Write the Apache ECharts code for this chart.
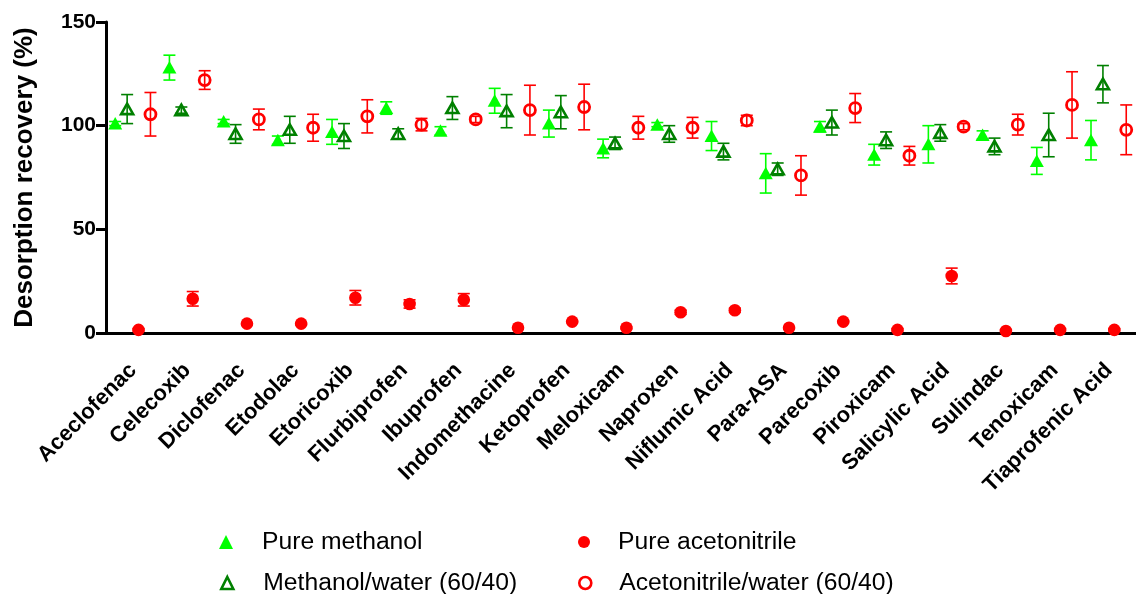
<!DOCTYPE html>
<html>
<head>
<meta charset="utf-8">
<script src="https://cdn.jsdelivr.net/npm/echarts@6/dist/echarts.min.js"></script>
<style>
  html, body { margin: 0; padding: 0; background: #fff; }
  #chart { width: 1136px; height: 594px; }
</style>
</head>
<body>
<div id="chart"></div>
<script>
// drug names on the x axis
const categories = ['Aceclofenac', 'Celecoxib', 'Diclofenac', 'Etodolac', 'Etoricoxib',
  'Flurbiprofen', 'Ibuprofen', 'Indomethacine', 'Ketoprofen', 'Meloxicam', 'Naproxen',
  'Niflumic Acid', 'Para-ASA', 'Parecoxib', 'Piroxicam', 'Salicylic Acid', 'Sulindac',
  'Tenoxicam', 'Tiaprofenic Acid']

// mean recovery (%) and error (+/-) per solvent
const pureMethanol = [101, 128, 102, 93, 97, 108.5, 97.5, 112, 101, 89, 100.5, 95, 77, 99.5, 86, 91, 95.5, 83, 93]
const pureMethanolErr = [1, 6, 1, 2, 6, 3, 2, 6, 6.5, 4.5, 1, 7, 9.5, 2.5, 5, 9, 2, 6.5, 9.5]

const methanolWater = [108, 107.5, 96, 98, 95, 96, 108.5, 107, 106.5, 91.5, 96, 87.5, 79, 101.5, 93, 96.5, 90, 95.5, 120]
const methanolWaterErr = [7, 1.5, 4.5, 6.5, 6, 2.5, 5.5, 8, 8, 3, 4, 4, 3, 6, 4, 4, 4, 10.5, 9]

const pureAcetonitrile = [1.5, 16.5, 4.5, 4.5, 17, 14, 16, 2.5, 5.5, 2.5, 10, 11, 2.5, 5.5, 1.5, 27.5, 1, 1.5, 1.5]
const pureAcetonitrileErr = [0.5, 3.5, 0.5, 0.5, 3.5, 2, 3, 0.5, 0.5, 0.5, 1, 1, 0.5, 0.5, 0.5, 3.8, 0.5, 0.5, 0.5]

const acetonitrileWater = [105.5, 122, 103, 99, 104.5, 100.5, 103, 107.5, 109, 99, 99, 102.5, 76, 108.5, 85.5, 99.5, 100.5, 110, 98]
const acetonitrileWaterErr = [10.5, 4.5, 5, 6.5, 8, 3, 1.5, 12, 11, 5.5, 5, 2.5, 9.5, 7, 4.5, 1.5, 5, 16, 12]

const yTicks = { min: 0, max: 150, interval: 50 }

const GREEN = '#00FF00'
const DARK_GREEN = '#008000'
const RED = '#FF0000'
const FONT = 'Liberation Sans, Arial, sans-serif'

// marker + error bar, shifted inside the category band
function makeRender (shape, color, frac) {
  return function (params, api) {
    const i = api.value(0)
    const v = api.value(1)
    const e = api.value(2)
    const bw = api.size([1, 0])[0]
    const c = api.coord([i, v])
    const hi = api.coord([i, v + e])
    const lo = api.coord([i, v - e])
    const x = c[0] + frac * bw
    const y = c[1]
    const cap = 6
    const lineStyle = { stroke: color, lineWidth: 1.6 }
    const children = [
      { type: 'line', shape: { x1: x, y1: hi[1], x2: x, y2: lo[1] }, style: lineStyle },
      { type: 'line', shape: { x1: x - cap, y1: hi[1], x2: x + cap, y2: hi[1] }, style: lineStyle },
      { type: 'line', shape: { x1: x - cap, y1: lo[1], x2: x + cap, y2: lo[1] }, style: lineStyle }
    ]
    if (shape === 'triangle') {
      children.push({ type: 'polygon', shape: { points: [[x, y - 6.5], [x + 7, y + 6], [x - 7, y + 6]] }, style: { fill: color } })
    } else if (shape === 'openTriangle') {
      children.push({ type: 'polygon', shape: { points: [[x, y - 5.5], [x + 6, y + 5], [x - 6, y + 5]] }, style: { fill: 'none', stroke: color, lineWidth: 2.6 } })
    } else if (shape === 'circle') {
      children.push({ type: 'circle', shape: { cx: x, cy: y, r: 6.3 }, style: { fill: color } })
    } else {
      children.push({ type: 'circle', shape: { cx: x, cy: y, r: 5.5 }, style: { fill: 'none', stroke: color, lineWidth: 2.8 } })
    }
    return { type: 'group', children: children }
  }
}

function rows (values, errs) {
  return values.map((v, i) => [i, v, errs[i]])
}

// one legend block per entry so the 2x2 layout is fixed
function legendEntry (name, icon, itemStyle, left, top, size, textPad) {
  return {
    left: left,
    top: top,
    itemWidth: size,
    itemHeight: size,
    textStyle: { fontFamily: FONT, fontSize: 24.7, color: '#000', lineHeight: 26, padding: [0, 0, 0, textPad] },
    data: [{ name: name, icon: icon, itemStyle: itemStyle }]
  }
}

const chart = echarts.init(document.getElementById('chart'))

const option = {
  animation: false,
  grid: { left: 106, top: 22, width: 1039, height: 311 },
  legend: [
    legendEntry('Pure methanol', 'triangle', { color: GREEN }, 214, 524, 14, 24),
    legendEntry('Methanol/water (60/40)', 'triangle',
      { color: 'rgba(0,0,0,0)', borderColor: DARK_GREEN, borderWidth: 2.6 }, 215, 565, 12, 25),
    legendEntry('Pure acetonitrile', 'circle', { color: RED }, 573, 524, 12, 23),
    legendEntry('Acetonitrile/water (60/40)', 'circle',
      { color: 'rgba(0,0,0,0)', borderColor: RED, borderWidth: 2.6 }, 573, 565, 12, 23)
  ],
  xAxis: {
    type: 'category',
    data: categories,
    boundaryGap: true,
    axisLine: { lineStyle: { color: '#000', width: 3 } },
    axisTick: { alignWithLabel: true, length: 10, lineStyle: { color: '#000', width: 3 } },
    axisLabel: {
      interval: 0,
      rotate: 45,
      margin: 34,
      color: '#000',
      fontFamily: FONT,
      fontWeight: 'bold',
      fontSize: 22
    },
    splitLine: { show: false }
  },
  yAxis: {
    type: 'value',
    min: yTicks.min,
    max: yTicks.max,
    interval: yTicks.interval,
    name: 'Desorption recovery (%)',
    nameLocation: 'middle',
    nameGap: 68,
    nameTextStyle: { fontFamily: FONT, fontWeight: 'bold', fontSize: 26, color: '#000' },
    axisLine: { show: true, lineStyle: { color: '#000', width: 3 } },
    axisTick: { show: true, length: 10, lineStyle: { color: '#000', width: 3 } },
    axisLabel: { margin: 10, color: '#000', fontFamily: FONT, fontWeight: 'bold', fontSize: 21 },
    splitLine: { show: false }
  },
  series: [
    {
      name: 'Pure methanol',
      type: 'custom',
      itemStyle: { color: GREEN },
      renderItem: makeRender('triangle', GREEN, -0.33),
      encode: { x: 0, y: 1 },
      data: rows(pureMethanol, pureMethanolErr)
    },
    {
      name: 'Methanol/water (60/40)',
      type: 'custom',
      itemStyle: { color: DARK_GREEN },
      renderItem: makeRender('openTriangle', DARK_GREEN, -0.11),
      encode: { x: 0, y: 1 },
      data: rows(methanolWater, methanolWaterErr)
    },
    {
      name: 'Pure acetonitrile',
      type: 'custom',
      itemStyle: { color: RED },
      renderItem: makeRender('circle', RED, 0.1),
      encode: { x: 0, y: 1 },
      data: rows(pureAcetonitrile, pureAcetonitrileErr)
    },
    {
      name: 'Acetonitrile/water (60/40)',
      type: 'custom',
      itemStyle: { color: RED },
      renderItem: makeRender('openCircle', RED, 0.32),
      encode: { x: 0, y: 1 },
      data: rows(acetonitrileWater, acetonitrileWaterErr)
    }
  ]
}

chart.setOption(option)
</script>
</body>
</html>
